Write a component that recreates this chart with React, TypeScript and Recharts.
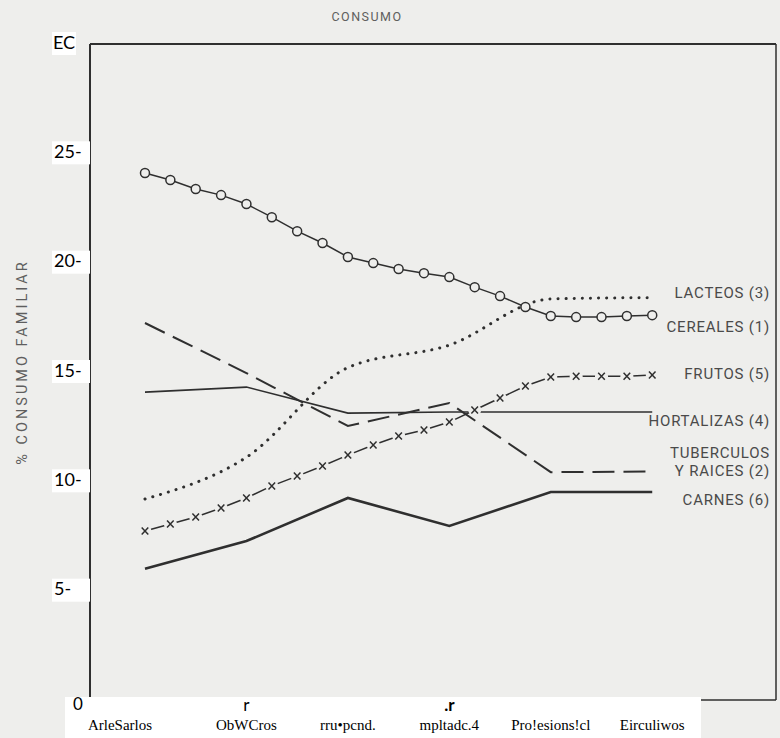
import React from 'react'
import { LineChart, Line, XAxis, YAxis, ReferenceLine } from 'recharts'

// occupational groups (labels as they appear on the scan)
const categories = ['ArleSarlos', 'ObWCros', 'rru•pcnd.', 'mpltadc.4', 'Pro!esions!cl', 'Eirculiwos']
const tickMarks = ['', 'r', '', '.r', '', '']
const yTicks = [0, 5, 10, 15, 20, 25, 30]
const yTickLabels = ['0', '5-', '10-', '15-', '20-', '25-', 'EC']

// series drawn with a marker every quarter step
const cereales = [24.1, 23.78, 23.37, 23.09, 22.68, 22.08, 21.44, 20.9, 20.26, 19.98, 19.71,
  19.52, 19.34, 18.88, 18.47, 17.97, 17.56, 17.51, 17.51, 17.56, 17.6]
const frutos = [7.73, 8.05, 8.37, 8.78, 9.24, 9.79, 10.24, 10.7, 11.2, 11.66, 12.07,
  12.35, 12.71, 13.26, 13.81, 14.36, 14.77, 14.81, 14.81, 14.81, 14.86]

// series with one value per group
const lacteos = [9.19, 11.1, 15.2, 16.23, 18.34, 18.4]
const hortalizas = [14.08, 14.31, 13.12, 13.17, 13.17, 13.17]
const tuberculos = [17.24, 14.95, 12.53, 13.58, 10.42, 10.45]
const carnes = [6.0, 7.27, 9.24, 7.96, 9.51, 9.51]

const rows = cereales.map((c, i) => {
  const row: any = { pos: i / 4, cereales: c, frutos: frutos[i] }
  if (i % 4 === 0) {
    const k = i / 4
    row.lacteos = lacteos[k]
    row.hortalizas = hortalizas[k]
    row.tuberculos = tuberculos[k]
    row.carnes = carnes[k]
  }
  return row
})
const last = rows.length - 1

const BG = '#eeeeec'
const INK = '#2f2f2f'
const LABEL = '#4a4a4a'

const endLabel = (lines: string[], dys: number[]) => (props: any) => {
  if (props.index !== last) return null
  return (
    <g>
      {lines.map((t, i) => (
        <text key={i} x={770} y={props.y + dys[i]} textAnchor="end" dominantBaseline="middle"
          fontFamily="Roboto" fontSize={15} letterSpacing={0.8} fill={LABEL}>{t}</text>
      ))}
    </g>
  )
}

const YTick = (props: any) => {
  const { y, payload } = props
  const idx = yTicks.indexOf(payload.value)
  const label = yTickLabels[idx]
  if (payload.value === 0) {
    return <text x={73} y={y + 6} textAnchor="start" dominantBaseline="middle" fontFamily="Lato" fontSize={17} fill="#000">{label}</text>
  }
  return (
    <g>
      <rect x={52} y={y - 12} width={payload.value === 30 ? 24 : 38} height={23} fill="#fff" />
      <text x={payload.value === 30 ? 53 : 54} y={y} dominantBaseline="middle" fontFamily="Lato" fontSize={18} fill="#000">{label}</text>
    </g>
  )
}

const XTick = (props: any) => {
  const { x, payload, index } = props
  const i = Math.round(payload.value)
  return (
    <g>
      {index === 0 && <rect x={65} y={697} width={636} height={41} fill="#fff" />}
      {tickMarks[i] && (
        <text x={x} y={707} textAnchor="middle" dominantBaseline="middle" fontFamily="Lato" fontSize={17}
          fontWeight={i === 3 ? 700 : 400} fill="#000">{tickMarks[i]}</text>
      )}
      <text x={i === 0 ? x - 25 : x} y={727} textAnchor="middle" dominantBaseline="middle" fontFamily="Liberation Serif" fontSize={15} fill="#000">{categories[i]}</text>
    </g>
  )
}

const CircleDot = (props: any) => {
  const { cx, cy } = props
  if (cx == null || cy == null) return null
  return <circle cx={cx} cy={cy} r={4.5} fill={BG} stroke={INK} strokeWidth={1.5} />
}

const CrossDot = (props: any) => {
  const { cx, cy } = props
  if (cx == null || cy == null) return null
  return (
    <g>
      <circle cx={cx} cy={cy} r={6.5} fill={BG} />
      <path d={`M${cx - 3.3},${cy - 3.5}L${cx + 3.3},${cy + 3.5}M${cx + 3.3},${cy - 3.5}L${cx - 3.3},${cy + 3.5}`} stroke={INK} strokeWidth={1.5} />
    </g>
  )
}

export default function App() {
  return (
    <div style={{ position: 'absolute', left: 0, top: 0, width: 780, height: 738, background: BG, overflow: 'hidden' }}>
      <div style={{ position: 'absolute', left: 0, top: 9, width: 734, textAlign: 'center', fontFamily: 'Roboto', fontSize: 12.5, letterSpacing: 1.5, color: '#5e5e5e' }}>CONSUMO</div>
      <div style={{ position: 'absolute', left: 22, top: 362, transform: 'translate(-50%, -50%) rotate(-90deg)', whiteSpace: 'nowrap', fontFamily: 'Roboto', fontSize: 14.5, letterSpacing: 3, color: '#5e5e5e' }}>% CONSUMO FAMILIAR</div>
      <LineChart width={780} height={738} data={rows} margin={{ top: 44, right: 4, bottom: 0, left: 0 }}
        style={{ position: 'absolute', left: 0, top: 0 }}>
        <XAxis dataKey="pos" type="number" domain={[-0.542, 6.22]} ticks={[0, 1, 2, 3, 4, 5]} height={38}
          axisLine={{ stroke: INK, strokeWidth: 1.5 }} tickLine={false} tick={<XTick />} interval={0} />
        <YAxis type="number" domain={[0, 30]} ticks={yTicks} width={90} interval={0}
          axisLine={{ stroke: INK, strokeWidth: 2 }} tickLine={false} tick={<YTick />} />
        <ReferenceLine y={30} stroke={INK} strokeWidth={2.2} />
        <ReferenceLine x={6.22} stroke={INK} strokeWidth={1.5} />
        <Line dataKey="lacteos" type="monotone" connectNulls stroke={INK} strokeWidth={3} strokeLinecap="round"
          strokeDasharray="0.1 8" dot={false} isAnimationActive={false}
          label={endLabel(['LACTEOS (3)'], [-4])} />
        <Line dataKey="hortalizas" type="linear" connectNulls stroke={INK} strokeWidth={1.6} dot={false} isAnimationActive={false}
          label={endLabel(['HORTALIZAS (4)'], [10])} />
        <Line dataKey="tuberculos" type="linear" connectNulls stroke={INK} strokeWidth={2} strokeDasharray="22 9"
          dot={false} isAnimationActive={false}
          label={endLabel(['TUBERCULOS', 'Y RAICES (2)'], [-17, 1])} />
        <Line dataKey="carnes" type="linear" connectNulls stroke={INK} strokeWidth={2.6} dot={false} isAnimationActive={false}
          label={endLabel(['CARNES (6)'], [9])} />
        <Line dataKey="frutos" type="linear" stroke={INK} strokeWidth={1.5} dot={<CrossDot />} isAnimationActive={false}
          label={endLabel(['FRUTOS (5)'], [0])} />
        <Line dataKey="cereales" type="linear" stroke={INK} strokeWidth={1.5} dot={<CircleDot />} isAnimationActive={false}
          label={endLabel(['CEREALES (1)'], [13])} />
      </LineChart>
    </div>
  )
}
